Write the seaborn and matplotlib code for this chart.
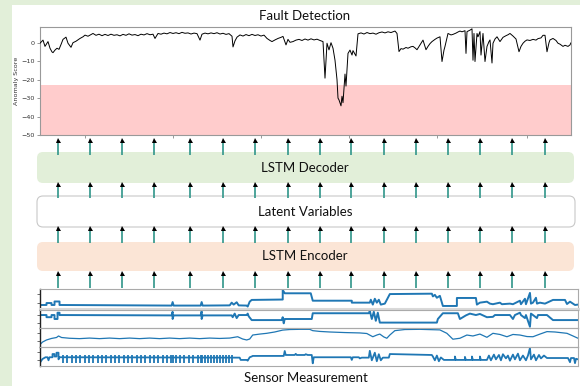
import numpy as np
import pandas as pd
import seaborn as sns
import matplotlib
matplotlib.use("Agg")
import matplotlib.pyplot as plt
from matplotlib.patches import FancyBboxPatch, Rectangle

# ---------------- data (time, value) pairs ----------------
score_pts = [(0, -0.3), (3, 1.4), (5, -2), (8, 0.6), (10, -3), (12, -5), (13, -5.4), (15, -4), (17, -3), (19, -3.6),
             (21, -1), (23, 1.8), (26, 3), (28, -0.3), (31, -2.5), (33, 0), (36, 0.8), (40, 2.3), (43, 3.2),
             (45, 4.1), (48, 3.5), (51, 4.4), (53, 5), (56, 4), (59, 4.6), (62, 3.8), (65, 4.5), (68, 3.9),
             (71, 4.6), (74, 4), (77, 4.3), (80, 3.7), (83, 4.5), (86, 4), (89, 4.8), (92, 4.1), (95, 4.4),
             (98, 3.8), (101, 4.6), (104, 4.2), (107, 4.9), (110, 4.3), (113, 4.6), (115, 2.3), (118, 5),
             (121, 4.6), (124, 5.2), (127, 4.8), (130, 5.5), (133, 5), (136, 5.4), (139, 4.9), (142, 5.6),
             (145, 5.1), (148, 5.3), (151, 4.7), (154, 5.2), (157, 4.9), (160, 1.4), (162, 4.6), (165, 5.2),
             (168, 4.8), (171, 5.3), (174, 4.9), (177, 5.4), (180, 4.7), (183, 5.1), (186, 4.5), (189, 4.9),
             (192, 3.5), (193, -2.3), (195, 1), (197, 3), (200, 4.2), (203, 3.6), (206, 4.4), (209, 3.8),
             (212, 4.5), (215, 3.9), (218, 4.3), (221, 3.6), (224, 4.1), (227, 2.3), (230, 1.2), (232, 0.6),
             (235, 1.5), (238, 2.3), (241, 2.9), (243, 3.4), (246, -1.2), (248, 1.8), (250, 0.2), (253, 0.6),
             (256, 1.4), (259, 1.8), (262, 1.2), (265, 2), (268, 1.4), (271, 2.1), (274, 1.5), (277, 1.9),
             (280, 1.2), (283, 0.6), (285, -19.2), (287, -0.3), (289, -3.9), (291, 0), (293, -3), (295, -9.5),
             (297, -20), (298, -30), (299, -31), (301, -34.2), (302, -29), (303, -32.5), (305, -17), (306, -23.5),
             (308, -5.8), (310, -4), (312, -6.7), (313, -4.3), (316, -7.2), (318, 4.8), (321, 5.3), (324, 4.7),
             (327, 5.5), (330, 4.9), (333, 5.2), (336, 4.6), (339, 5.4), (342, 5.8), (345, 5.3), (348, 5.9),
             (351, 5.5), (354, 6.1), (355, 6.3), (357, 5), (359, -4.8), (361, -3.2), (363, -3.5), (366, -2.6),
             (368, -3), (371, -2.2), (373, -2), (375, -2.8), (377, -3.8), (380, -1.2), (383, 1.4), (386, -3.8),
             (388, -2), (390, -0.5), (392, 0.6), (395, 1.8), (397, 2.5), (400, 3.2), (402, -10.2), (404, -4),
             (405, -2), (408, 5), (411, 4.2), (413, 4.5), (416, 5.2), (418, 5.8), (420, 6.3), (422, 5.9),
             (425, 6.5), (426, -5.8), (427, 6), (430, 6.8), (432, 7.5), (433, -9.5), (434, 5), (435, -10.2),
             (437, 5), (438, 3.2), (440, 6), (441, -6.7), (443, 5), (445, -10.2), (447, -2), (449, 0.6),
             (450, 1.5), (452, -11), (453, -0.3), (455, 2), (457, 3.2), (460, 0.6), (463, 2.9), (466, 3.8),
             (468, 4.3), (470, 5), (473, 3.6), (476, 2), (479, -4.9), (481, -2), (483, -0.3), (485, 0.8),
             (487, 1.5), (490, 1.2), (493, 1.8), (496, 1.4), (498, 2.2), (501, 2.6), (503, 4), (505, 4),
             (507, -4.9), (509, 0), (510, 1.5), (513, 2.3), (516, 1.2), (518, -0.3), (520, -0.8), (523, -2),
             (525, -1.4), (528, -2), (530, -1.2), (531, 0)]
threshold = -23

s1_pts = [(0, 0.18), (7, 0.18), (7, 0.28), (12, 0.28), (12, 0.18), (15, 0.18), (15, 0.36), (20, 0.36), (20, 0.18),
          (60, 0.17), (132, 0.15), (133, 0.33), (134, 0.15), (161, 0.15), (162, 0.33), (163, 0.15), (190, 0.16),
          (192, 0.3), (194, 0.2), (197, 0.32), (199, 0.16), (207, 0.15), (208, 0.1), (210, 0.35), (212, 0.44),
          (243, 0.46), (243, 0.95), (245, 0.78), (271, 0.78), (273, 0.4), (312, 0.4), (312, 0.3), (330, 0.3),
          (331, 0.45), (333, 0.2), (335, 0.5), (337, 0.3), (339, 0.45), (341, 0.2), (345, 0.25), (350, 0.74),
          (392, 0.76), (393, 0.62), (395, 0.7), (397, 0.55), (400, 0.65), (403, 0.13), (417, 0.13), (417, 0.54),
          (436, 0.54), (437, 0.2), (440, 0.3), (447, 0.35), (450, 0.25), (453, 0.22), (460, 0.3), (462, 0.22),
          (470, 0.25), (473, 0.22), (480, 0.4), (481, 0.22), (485, 0.5), (486, 0.22), (490, 0.8), (491, 0.25),
          (493, 0.3), (496, 0.55), (497, 0.25), (500, 0.3), (505, 0.25), (513, 0.44), (525, 0.44), (527, 0.23),
          (530, 0.35), (535, 0.18), (538, 0.2)]

s2_pts = [(0, 0.72), (7, 0.72), (7, 0.6), (12, 0.6), (12, 0.72), (15, 0.72), (15, 0.5), (18, 0.5), (18, 0.85),
          (20, 0.85), (20, 0.72), (132, 0.7), (133, 0.9), (133, 0.5), (134, 0.7), (161, 0.7), (162, 0.92),
          (162, 0.5), (163, 0.7), (192, 0.7), (193, 0.6), (195, 0.8), (197, 0.55), (199, 0.72), (207, 0.72),
          (208, 0.8), (209, 0.65), (212, 0.44), (242, 0.44), (243, 0.6), (244, 0.26), (245, 0.5), (272, 0.5),
          (273, 0.82), (329, 0.82), (330, 0.95), (332, 0.5), (334, 0.9), (336, 0.4), (338, 0.85), (340, 0.3),
          (352, 0.3), (397, 0.3), (398, 0.5), (403, 0.82), (418, 0.82), (420, 0.5), (426, 0.7), (430, 0.8),
          (436, 0.72), (440, 0.78), (447, 0.6), (453, 0.62), (455, 0.72), (470, 0.72), (473, 0.5), (475, 0.72),
          (480, 0.85), (481, 0.72), (485, 0.55), (486, 0.72), (490, 0.07), (491, 0.8), (493, 0.72), (497, 0.55),
          (498, 0.72), (507, 0.72), (513, 0.44), (538, 0.44)]

s3_pts = [(0, 0.1), (3, 0.26), (7, 0.37), (12, 0.45), (17, 0.5), (19, 0.58), (22, 0.5), (30, 0.46), (40, 0.44),
          (50, 0.47), (60, 0.44), (70, 0.47), (80, 0.44), (90, 0.47), (100, 0.44), (110, 0.47), (120, 0.44),
          (130, 0.47), (140, 0.44), (150, 0.47), (160, 0.44), (170, 0.47), (180, 0.45), (190, 0.47), (198, 0.54),
          (203, 0.42), (207, 0.37), (210, 0.42), (213, 0.63), (220, 0.68), (227, 0.72), (235, 0.79), (243, 0.89),
          (250, 0.92), (260, 0.93), (270, 0.93), (273, 0.86), (280, 0.82), (290, 0.79), (305, 0.76), (320, 0.74),
          (327, 0.71), (333, 0.54), (337, 0.63), (340, 0.68), (344, 0.53), (347, 0.46), (350, 0.63), (355, 0.86),
          (365, 0.92), (380, 0.93), (400, 0.9), (407, 0.72), (413, 0.41), (420, 0.46), (427, 0.63), (433, 0.58),
          (440, 0.68), (447, 0.51), (453, 0.72), (460, 0.66), (467, 0.54), (473, 0.66), (480, 0.63), (487, 0.55),
          (493, 0.54), (500, 0.68), (507, 0.81), (515, 0.79), (527, 0.72), (533, 0.58), (538, 0.46)]

s4_pts = [(0, 0.14), (3, 0.37), (6, 0.46), (8, 0.46), (9, 0.3), (10, 0.46), (13, 0.46), (13, 0.63), (15, 0.63),
          (15, 0.5), (17, 0.5), (17, 0.7), (19, 0.7), (19, 0.35), (20, 0.46), (120, 0.45), (200, 0.44), (201, 0.32),
          (207, 0.32), (208, 0.28), (210, 0.46), (212, 0.5), (213, 0.53), (243, 0.53), (244, 0.53), (245, 0.79),
          (246, 0.58), (255, 0.58), (256, 0.64), (257, 0.58), (265, 0.58), (266, 0.62), (268, 0.58), (272, 0.58),
          (273, 0.14), (274, 0.46), (311, 0.46), (312, 0.32), (313, 0.46), (319, 0.46), (320, 0.4), (322, 0.44),
          (329, 0.44), (330, 0.8), (332, 0.3), (335, 0.7), (337, 0.25), (339, 0.62), (341, 0.3), (343, 0.44),
          (349, 0.44), (350, 0.63), (392, 0.58), (393, 0.5), (395, 0.3), (397, 0.55), (399, 0.25), (401, 0.45),
          (404, 0.32), (415, 0.32), (415, 0.5), (416, 0.32), (425, 0.32), (425, 0.48), (426, 0.32), (432, 0.32),
          (432, 0.5), (433, 0.32), (440, 0.32), (440, 0.5), (441, 0.32), (447, 0.32), (449, 0.55), (451, 0.3),
          (454, 0.6), (456, 0.35), (459, 0.58), (461, 0.3), (463, 0.62), (466, 0.4), (468, 0.55), (470, 0.28),
          (473, 0.6), (475, 0.35), (478, 0.65), (480, 0.3), (483, 0.55), (486, 0.3), (488, 0.55), (490, 0.95),
          (491, 0.35), (494, 0.6), (496, 0.3), (499, 0.58), (501, 0.4), (504, 0.55), (507, 0.42), (528, 0.42),
          (530, 0.2), (531, 0.42), (534, 0.42), (535, 0.15), (536, 0.38), (538, 0.35)]
s4_pulse_t = [23, 27, 32, 36, 40, 45, 49, 53, 58, 62, 66, 71, 75, 79, 84, 88, 92, 97, 101, 105, 110, 114, 118, 123,
              127, 131, 133, 136, 140, 144, 149, 153, 158, 161, 162, 165, 168, 171, 174, 177, 180, 183, 186, 189, 192]
s4_pulse_lo = 0.17
s4_pulse_hi = 0.56

score_ticks = [45, 133, 221, 309, 397, 487]
yticks = [-50, -40, -30, -20, -10, 0]

title = "Fault Detection"
layer_names = ["LSTM Decoder", "Latent Variables", "LSTM Encoder"]
bottom_label = "Sensor Measurement"


def to_df(pts):
    return pd.DataFrame(pts, columns=["t", "v"])


# ---------------- figure ----------------
sns.set_theme(style="white")
plt.rcParams["font.family"] = ["Lato", "DejaVu Sans"]

W, H = 580, 386
fig = plt.figure(figsize=(5.8, 3.86), dpi=100)
fig.patch.set_facecolor("white")


def fa(l, t, r, b):
    return [l / W, 1 - b / H, (r - l) / W, (b - t) / H]


bg = fig.add_axes([0, 0, 1, 1], zorder=0)
bg.set_xlim(0, W)
bg.set_ylim(H, 0)
bg.axis("off")
bg.add_patch(Rectangle((0, 0), W, 5, color="#e2efd9", lw=0))
bg.add_patch(Rectangle((0, 0), 12, H, color="#e2efd9", lw=0))

# ---- anomaly score ----
ax = fig.add_axes(fa(40, 27, 571, 135), zorder=2)
ax.axhspan(-50, threshold, color="#ffcccc", lw=0, zorder=0)
sns.lineplot(data=to_df(score_pts), x="t", y="v", ax=ax, color="black", lw=0.7, estimator=None, sort=False, zorder=3)
ax.set_xlim(0, 531)
ax.set_ylim(-50, 8.5)
ax.set_xticks(score_ticks)
ax.set_xticklabels([])
ax.set_xlabel("")
ax.set_yticks(yticks)
ax.set_yticklabels([f"\u2212{abs(v)}" if v < 0 else str(v) for v in yticks], family="DejaVu Sans", fontsize=4.6,
                   color="#333333")
ax.tick_params(axis="both", length=2.5, width=0.6, color="#888888", pad=1.2, bottom=True, left=True)
ax.set_ylabel("Anomaly Score", family="DejaVu Sans", fontsize=4.6, color="#333333", labelpad=2)
for s in ax.spines.values():
    s.set_color("#999999")
    s.set_linewidth(0.8)
ax.set_facecolor("white")

fig.text(305 / W, 1 - 16.5 / H, title, ha="center", va="center", fontsize=9.5, color="#111111")

# ---- sensors ----
rows = [(289, 308.5), (310, 328), (328, 347), (347, 366)]
series = [(s1_pts, 1.4), (s2_pts, 1.4), (s3_pts, 0.9), (s4_pts, 1.3)]
for i, ((top, bot), (pts, lw)) in enumerate(zip(rows, series)):
    sax = fig.add_axes(fa(39.5, top, 578, bot), zorder=2)
    sns.lineplot(data=to_df(pts), x="t", y="v", ax=sax, color="#1f77b4", lw=lw, estimator=None, sort=False)
    if i == 3:
        sax.vlines(s4_pulse_t, s4_pulse_lo, s4_pulse_hi, color="#1f77b4", lw=1.3)
    sax.set_xlim(0, 538)
    sax.set_ylim(0, 1)
    sax.set_xticks([])
    sax.set_xlabel("")
    sax.set_ylabel("")
    sax.set_yticks([0.3, 0.75])
    sax.set_yticklabels([])
    sax.tick_params(axis="y", length=2, width=0.6, color="#555555", left=True)
    for name, s in sax.spines.items():
        s.set_color("#aaaaaa")
        s.set_linewidth(0.8)
    sax.spines["left"].set_color("#222222")
    sax.spines["left"].set_linewidth(1.0)
    if i == 0:
        sax.spines["bottom"].set_color("#d9d9d9")
        sax.spines["bottom"].set_linewidth(2.2)
    sax.set_facecolor("none")

fig.text(306 / W, 1 - 377.5 / H, bottom_label, ha="center", va="center", fontsize=9.5, color="#111111")

# ---- boxes & arrows ----
ov = fig.add_axes([0, 0, 1, 1], zorder=4)
ov.set_xlim(0, W)
ov.set_ylim(H, 0)
ov.axis("off")
ov.patch.set_alpha(0)

boxes = [((37, 152, 537, 31), "#e2efd9", "none"),
         ((37, 196, 538, 31), "white", "#c8c8c8"),
         ((37, 242, 537, 29), "#fbe5d6", "none")]
for ((x0, y0, w, h), fc, ec), name in zip(boxes, layer_names):
    ov.add_patch(FancyBboxPatch((x0, y0), w, h, boxstyle="round,pad=0,rounding_size=6", fc=fc, ec=ec, lw=0.8,
                                zorder=1))
    ov.text(x0 + 268, y0 + h / 2, name, ha="center", va="center", fontsize=9.5, color="#111111", zorder=2)

arrow_x = [58, 90, 122, 154, 190, 223, 255, 288, 320, 351, 384, 416, 448, 480, 512, 545]
arrow_rows = [(155, 137.5), (198, 182), (243, 225.5), (288, 271)]
for tail, head in arrow_rows:
    for x in arrow_x:
        ov.plot([x, x], [tail, head + 3], color="#3f9d92", lw=1.3, solid_capstyle="butt", zorder=3)
        ov.plot([x], [head + 2], marker="^", color="black", ms=3.6, mew=0, zorder=4)

fig.savefig("out.png", dpi=100, facecolor="white")
